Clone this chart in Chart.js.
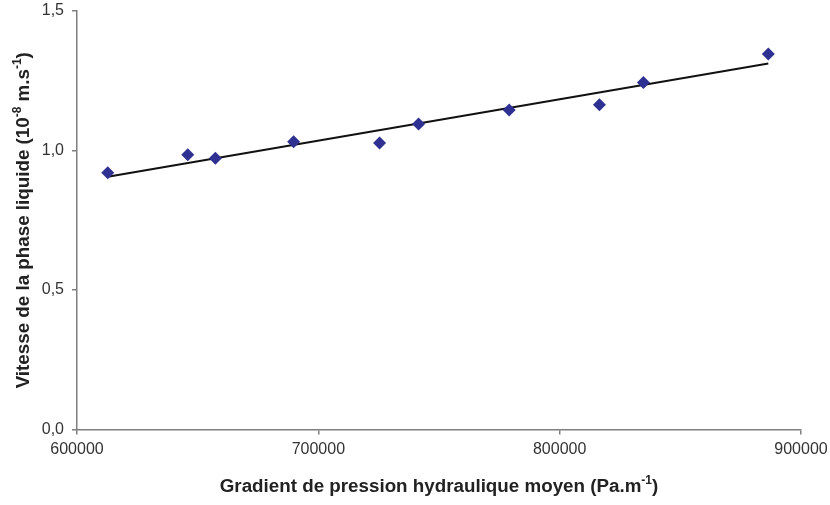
<!DOCTYPE html>
<html>
<head>
<meta charset="utf-8">
<script src="https://cdn.jsdelivr.net/npm/chart.js@4.4.1/dist/chart.umd.min.js"></script>
<style>
  html, body { margin: 0; padding: 0; background: #ffffff; }
  #wrap { width: 830px; height: 505px; position: relative; }
</style>
</head>
<body>
<div id="wrap"><canvas id="c" width="830" height="505"></canvas></div>
<script>
// Mean hydraulic pressure gradient (Pa/m) and liquid-phase velocity (1e-8 m/s)
const gradients = [612750, 645880, 657350, 689770, 725380, 741530, 779090, 816480, 834700, 886460];
const velocities = [0.920, 0.985, 0.972, 1.031, 1.027, 1.095, 1.145, 1.164, 1.244, 1.346];

// Linear trend line end points
const trendX = [612750, 886460];
const trendY = [0.906, 1.312];

// Axis ticks
const xTicks = [600000, 700000, 800000, 900000];
const yTicks = [0.0, 0.5, 1.0, 1.5];

const FONT = '"Liberation Sans", Arial, Helvetica, sans-serif';
const TITLE_SIZE = 18.8;

const pointData = gradients.map((g, i) => ({ x: g, y: velocities[i] }));
const trendData = trendX.map((g, i) => ({ x: g, y: trendY[i] }));

// Draws a run of text pieces, some of them raised as superscripts
function richText(ctx, parts, size, cx, cy) {
  const sup = Math.round(size * 0.65);
  let total = 0;
  parts.forEach(p => {
    ctx.font = 'bold ' + (p.sup ? sup : size) + 'px ' + FONT;
    p.w = ctx.measureText(p.t).width;
    total += p.w;
  });
  let x = cx - total / 2;
  ctx.textBaseline = 'alphabetic';
  ctx.textAlign = 'left';
  parts.forEach(p => {
    ctx.font = 'bold ' + (p.sup ? sup : size) + 'px ' + FONT;
    ctx.fillText(p.t, x, cy + (p.sup ? -size * 0.42 : 0));
    x += p.w;
  });
}

const titlesPlugin = {
  id: 'axisTitles',
  afterDraw(chart) {
    const ctx = chart.ctx;
    const area = chart.chartArea;
    ctx.save();
    ctx.fillStyle = '#222222';
    richText(ctx, [
      { t: 'Gradient de pression hydraulique moyen (Pa.m' },
      { t: '-1', sup: true },
      { t: ')' }
    ], TITLE_SIZE, (area.left + area.right) / 2, 492);
    ctx.restore();

    ctx.save();
    ctx.fillStyle = '#222222';
    ctx.translate(29, (area.top + area.bottom) / 2);
    ctx.rotate(-Math.PI / 2);
    richText(ctx, [
      { t: 'Vitesse de la phase liquide (10' },
      { t: '-8', sup: true },
      { t: ' m.s' },
      { t: '-1', sup: true },
      { t: ')' }
    ], TITLE_SIZE, 0, 0);
    ctx.restore();
  }
};

new Chart(document.getElementById('c'), {
  type: 'scatter',
  data: {
    datasets: [
      {
        label: 'Mesures',
        data: pointData,
        pointStyle: 'rectRot',
        pointRadius: 6.5,
        pointHoverRadius: 6.5,
        backgroundColor: '#2E3192',
        borderColor: '#2E3192',
        borderWidth: 0,
        order: 1
      },
      {
        label: 'Tendance',
        data: trendData,
        showLine: true,
        pointRadius: 0,
        borderColor: '#111111',
        borderWidth: 2,
        fill: false,
        order: 2
      }
    ]
  },
  options: {
    responsive: false,
    animation: false,
    devicePixelRatio: 1,
    layout: { padding: { top: 11, right: 29, left: 0, bottom: 0 } },
    plugins: {
      legend: { display: false },
      tooltip: { enabled: false }
    },
    scales: {
      x: {
        type: 'linear',
        min: xTicks[0],
        max: xTicks[xTicks.length - 1],
        afterBuildTicks(scale) { scale.ticks = xTicks.map(v => ({ value: v })); },
        afterFit(scale) { scale.height = 75.5; scale.paddingLeft = 0; scale.paddingRight = 0; },
        grid: { drawOnChartArea: false, drawTicks: true, tickLength: 5, color: '#7f7f7f', lineWidth: 1.5 },
        border: { display: true, color: '#7f7f7f', width: 1.5 },
        ticks: {
          padding: 5,
          color: '#333333',
          font: { family: FONT, size: 16 },
          maxRotation: 0,
          callback: v => String(v)
        }
      },
      y: {
        type: 'linear',
        min: yTicks[0],
        max: yTicks[yTicks.length - 1],
        afterBuildTicks(scale) { scale.ticks = yTicks.map(v => ({ value: v })); },
        afterFit(scale) { scale.width = 77; scale.paddingTop = 0; scale.paddingBottom = 0; },
        grid: { drawOnChartArea: false, drawTicks: true, tickLength: 5, color: '#7f7f7f', lineWidth: 1.5 },
        border: { display: true, color: '#7f7f7f', width: 1.5 },
        ticks: {
          padding: 8,
          color: '#333333',
          font: { family: FONT, size: 16 },
          callback: v => v.toFixed(1).replace('.', ',')
        }
      }
    }
  },
  plugins: [titlesPlugin]
});
</script>
</body>
</html>
